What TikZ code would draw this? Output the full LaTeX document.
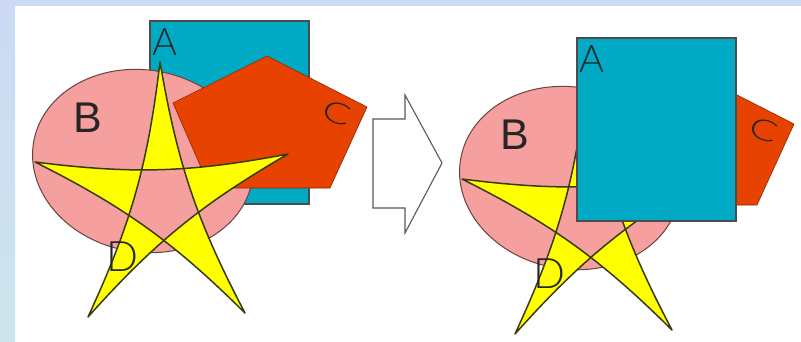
\documentclass[tikz,border=0pt]{standalone}
\usepackage{fontspec}
\setmainfont{Liberation Sans}
\newfontfamily\thinfont{Lato}[UprightFont=* Light]
\definecolor{tealA}{RGB}{0,170,196}
\definecolor{pinkB}{RGB}{245,160,158}
\definecolor{redC}{RGB}{232,66,0}
\definecolor{yelD}{RGB}{255,255,0}
\definecolor{starline}{RGB}{58,58,20}
\definecolor{ellline}{RGB}{105,65,65}
\definecolor{bgtop}{RGB}{204,218,245}
\definecolor{bgbot}{RGB}{204,228,236}
\tikzset{
  rectstyle/.style={fill=tealA,draw=black!70,line width=1.2pt},
  ellstyle/.style={fill=pinkB,draw=ellline,line width=1pt},
  pentstyle/.style={fill=redC,draw=redC!60!black,line width=0.6pt,line join=round},
  starstyle/.style={fill=yelD,draw=starline,line width=1.5pt,even odd rule,line join=round},
  lbl/.style={inner sep=0pt,text=black!85},
  arrowstyle/.style={fill=white,draw=black!65,line width=1.1pt},
  pics/rectA/.style={code={
    \coordinate (-p1) at (150,21); \coordinate (-p2) at (309,204);
    \path[rectstyle] (-p1) rectangle (-p2);
    \node[lbl,font=\thinfont\fontsize{38}{38}\selectfont] (-lab) at (165,42) {A};
  }},
  pics/ellB/.style={code={
    \coordinate (-c) at (143,161);
    \path[ellstyle,rotate around={-10:(-c)}] (-c) ellipse [x radius=111,y radius=91];
    \node[lbl,font=\fontsize{43}{43}\selectfont] (-lab) at (88,118) {B};
  }},
  pics/pentC/.style={code={
    \coordinate (-t) at (267,56); \coordinate (-r) at (367,107);
    \coordinate (-br) at (330,188); \coordinate (-bl) at (210,188);
    \coordinate (-l) at (173,103);
    \path[pentstyle] (-t) -- (-r) -- (-br) -- (-bl) -- (-l) -- cycle;
    \node[lbl,font=\thinfont\fontsize{36}{36}\selectfont,rotate=-18,xscale=1.15,yscale=0.8] (-lab) at (337,113) {C};
  }},
  pics/starD/.style={code={
    \coordinate (-t) at (160,62); \coordinate (-r) at (288,154);
    \coordinate (-br) at (245,313); \coordinate (-bl) at (88,317);
    \coordinate (-l) at (35,162);
    \path[starstyle] (-t) to[bend right=9] (-br) to[bend right=9] (-l)
      to[bend right=9] (-r) to[bend right=9] (-bl) to[bend right=9] (-t) -- cycle;
    \node[lbl,font=\thinfont\fontsize{42}{42}\selectfont] (-lab) at (122,257) {D};
  }}
}
\begin{document}
\begin{tikzpicture}[x=1pt,y=-1pt]
\useasboundingbox (0,0) rectangle (801,341);
\fill[white] (0,0) rectangle (801,341);
\shade[top color=bgtop,bottom color=bgbot] (0,0) rectangle (15,341);
\fill[bgtop] (0,0) rectangle (801,6);
% left figure: A, B, C, D
\pic (la) at (0,0) {rectA};
\pic (lb) at (0,0) {ellB};
\pic (lc) at (0,0) {pentC};
\pic (ld) at (0,0) {starD};
% arrow
\coordinate (a1) at (373,119); \coordinate (a2) at (405,119);
\coordinate (a3) at (405,95);  \coordinate (a4) at (442,163);
\coordinate (a5) at (405,233); \coordinate (a6) at (405,208);
\coordinate (a7) at (373,208);
\path[arrowstyle] (a1) -- (a2) -- (a3) -- (a4) -- (a5) -- (a6) -- (a7) -- cycle;
% right figure: B, C, D, A
\pic (rb) at (427,17) {ellB};
\pic (rc) at (427,17) {pentC};
\pic (rd) at (427,17) {starD};
\pic (ra) at (427,17) {rectA};
\end{tikzpicture}
\end{document}
